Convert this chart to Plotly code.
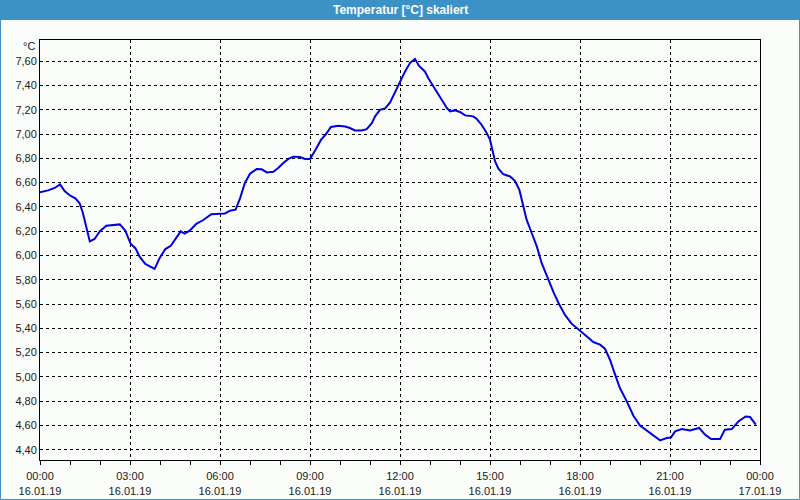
import plotly.graph_objects as go
import pandas as pd

# Hours after 16.01.19 00:00 and temperature [°C]
hours = [0.0, 0.27, 0.49, 0.67, 0.82, 1.02, 1.18, 1.32, 1.43, 1.54, 1.66, 1.82, 1.99,
         2.21, 2.43, 2.66, 2.84, 3.02, 3.18, 3.32, 3.51, 3.69, 3.82, 3.99, 4.18, 4.36,
         4.51, 4.69, 4.82, 4.99, 5.21, 5.43, 5.71, 6.04, 6.17, 6.33, 6.52, 6.67, 6.83,
         7.0, 7.22, 7.39, 7.56, 7.78, 7.94, 8.11, 8.28, 8.44, 8.67, 8.83, 9.0, 9.17,
         9.37, 9.52, 9.7, 9.94, 10.17, 10.33, 10.5, 10.72, 10.89, 11.06, 11.17, 11.33,
         11.5, 11.67, 11.83, 12.0, 12.17, 12.33, 12.5, 12.63, 12.83, 12.94, 13.08,
         13.22, 13.39, 13.56, 13.67, 13.83, 14.0, 14.17, 14.44, 14.56, 14.72, 14.86,
         15.0, 15.08, 15.17, 15.28, 15.44, 15.67, 15.83, 15.98, 16.09, 16.22, 16.39,
         16.56, 16.72, 16.94, 17.13, 17.3, 17.5, 17.72, 18.0, 18.17, 18.31, 18.44,
         18.67, 18.83, 19.0, 19.17, 19.33, 19.56, 19.78, 20.0, 20.22, 20.5, 20.67,
         20.89, 21.03, 21.17, 21.39, 21.67, 21.97, 22.17, 22.37, 22.67, 22.83, 23.06,
         23.28, 23.52, 23.67, 23.86]
temps = [6.52, 6.536, 6.556, 6.585, 6.53, 6.49, 6.47, 6.43, 6.35, 6.226, 6.116, 6.136, 6.198,
         6.245, 6.25, 6.256, 6.206, 6.097, 6.06, 5.99, 5.93, 5.91, 5.89, 5.98, 6.053, 6.08,
         6.13, 6.198, 6.18, 6.204, 6.26, 6.29, 6.34, 6.346, 6.346, 6.369, 6.377, 6.473, 6.597,
         6.673, 6.712, 6.71, 6.684, 6.69, 6.72, 6.762, 6.795, 6.814, 6.811, 6.795, 6.795, 6.865,
         6.954, 6.995, 7.058, 7.069, 7.063, 7.05, 7.03, 7.03, 7.04, 7.09, 7.146, 7.20,
         7.21, 7.26, 7.34, 7.434, 7.516, 7.585, 7.618, 7.563, 7.516, 7.462, 7.407,
         7.35, 7.283, 7.215, 7.187, 7.195, 7.182, 7.154, 7.146, 7.124, 7.077, 7.022,
         6.954, 6.87, 6.775, 6.715, 6.67, 6.651, 6.615, 6.54, 6.43, 6.295, 6.185,
         6.075, 5.938, 5.80, 5.69, 5.60, 5.51, 5.438, 5.383, 5.35, 5.315, 5.287,
         5.265, 5.232, 5.141, 5.018, 4.908, 4.798, 4.68, 4.598, 4.559, 4.51, 4.477,
         4.496, 4.50, 4.551, 4.57, 4.559, 4.579, 4.524, 4.488, 4.488, 4.565, 4.57,
         4.633, 4.674, 4.669, 4.606]

y_ticks = [4.4, 4.6, 4.8, 5.0, 5.2, 5.4, 5.6, 5.8, 6.0, 6.2, 6.4, 6.6, 6.8, 7.0, 7.2, 7.4, 7.6]
title_text = "Temperatur [°C] skaliert"
unit_text = "°C"

start = pd.Timestamp("2019-01-16 00:00")
times = [start + pd.Timedelta(hours=h) for h in hours]

BLUE_BAR = "#3c92c6"
BG = "#fbfdfb"
W, H = 800, 500
L, R, T, B = 40, 40, 40, 40
PW, PH = W - L - R, H - T - B

def px(x):
    return (x - L) / PW

def py(y):
    return (H - B - y) / PH

fig = go.Figure()
fig.add_trace(go.Scatter(x=times, y=temps, mode="lines",
                         line=dict(color="#0000e0", width=2), hoverinfo="skip"))

fig.update_layout(
    width=W, height=H,
    margin=dict(l=L, r=R, t=T, b=B, autoexpand=False),
    paper_bgcolor=BG, plot_bgcolor=BG,
    separators=",.",
    showlegend=False,
    font=dict(family="Liberation Sans, Arial, sans-serif", size=11, color="#202020"),
)

fig.update_xaxes(
    type="date",
    automargin=False,
    range=[start, start + pd.Timedelta(hours=24)],
    dtick=3 * 3600 * 1000,
    tick0=start,
    tickformat="%H:%M<br>%d.%m.%y",
    ticklabelstandoff=2,
    showgrid=True, gridcolor="#000000", gridwidth=1, griddash="3px,3px",
    showline=True, linecolor="#000000", linewidth=1, mirror=True,
    ticks="outside", ticklen=4, tickcolor="#000000",
    minor=dict(dtick=3600 * 1000, ticks="outside", ticklen=4, tickcolor="#000000", showgrid=False),
    zeroline=False,
)
fig.update_yaxes(
    automargin=False,
    range=[4.315, 7.775],
    tickvals=y_ticks,
    tickformat=".2f",
    showgrid=True, gridcolor="#000000", gridwidth=1, griddash="3px,3px",
    showline=True, linecolor="#000000", linewidth=1, mirror=True,
    ticks="", ticklen=0,
    zeroline=False,
)

# title bar and window border
fig.add_shape(type="rect", xref="paper", yref="paper",
              x0=px(0), x1=px(W), y0=py(20), y1=py(0),
              fillcolor=BLUE_BAR, line=dict(width=0), layer="above")
fig.add_shape(type="rect", xref="paper", yref="paper",
              x0=px(0.5), x1=px(W - 0.5), y0=py(H - 0.5), y1=py(0.5),
              fillcolor="rgba(0,0,0,0)", line=dict(color=BLUE_BAR, width=1), layer="above")

fig.add_annotation(text="<b>" + title_text + "</b>", xref="paper", yref="paper",
                   x=px(400), y=py(10), showarrow=False, xanchor="center", yanchor="middle",
                   font=dict(color="white", size=12, family="Liberation Sans, Arial, sans-serif"))
fig.add_annotation(text=unit_text, xref="paper", yref="paper",
                   x=px(37), y=py(46), showarrow=False, xanchor="right", yanchor="middle",
                   font=dict(size=11))

fig.write_html("out.html")
